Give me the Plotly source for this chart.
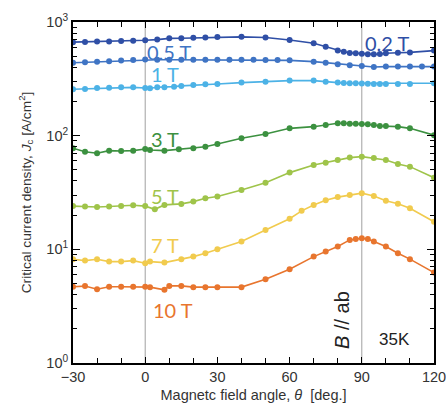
import plotly.graph_objects as go

# ---- data (angle in deg, Jc in A/cm^2) ----
a02 = [-30, -25, -20, -15, -10, -5, 0, 5, 10, 15, 20, 25, 30, 40, 50, 60, 70, 75, 80, 82.5, 85, 87.5, 90, 92.5, 95, 97.5, 100, 105, 110, 120]
v02 = [665, 668, 672, 675, 680, 685, 690, 700, 718, 720, 725, 730, 738, 740, 730, 695, 650, 607, 560, 548, 535, 531, 525, 520, 520, 522, 531, 537, 540, 560]

a05 = [-30, -25, -20, -15, -10, -5, 0, 5, 10, 15, 20, 25, 30, 35, 40, 45, 50, 55, 60, 70, 75, 80, 85, 90, 95, 100, 105, 110, 115, 120]
v05 = [438, 442, 447, 452, 458, 463, 468, 466, 465, 465, 465, 465, 465, 466, 466, 465, 464, 463, 460, 448, 438, 425, 416, 410, 402, 405, 405, 405, 405, 405]

a1 = [-30, -25, -20, -15, -10, -5, 0, 2, 5, 8, 12, 15, 20, 25, 30, 40, 50, 60, 70, 75, 80, 82.5, 85, 87.5, 90, 92.5, 95, 97.5, 100, 105, 110, 120]
v1 = [256, 258, 262, 264, 267, 266, 263, 261, 267, 267, 270, 274, 279, 283, 285, 293, 298, 305, 305, 298, 293, 290, 289, 289, 288, 286, 285, 285, 285, 285, 285, 289]

a3 = [-30, -25, -20, -15, -10, -5, 0, 2, 8, 14, 20, 25, 30, 40, 50, 60, 70, 75, 80, 82.5, 85, 87.5, 90, 92.5, 95, 97.5, 100, 105, 110, 120]
v3 = [77.5, 72.3, 70, 73.8, 73.3, 73.8, 76.4, 74.8, 73.8, 75.9, 77.5, 80, 84.5, 94.9, 103.5, 116, 120, 124, 128.5, 128.5, 127, 127, 126.7, 126, 124, 121.6, 121.6, 120, 116, 101]

a5 = [-30, -25, -20, -15, -10, -5, 0, 4, 8, 15, 20, 25, 30, 40, 50, 60, 70, 75, 80, 85, 90, 95, 100, 105, 110, 120]
v5 = [24, 23.8, 23.6, 23.8, 24, 24.4, 24, 22.5, 24.6, 25.1, 26.3, 28.1, 29.2, 33.3, 38.6, 47.3, 55.2, 57.9, 61, 64.1, 65.4, 63.5, 61, 56.3, 53.4, 42.7]

a7 = [-30, -25, -20, -15, -10, -5, 0, 2, 8, 15, 20, 25, 30, 40, 50, 60, 65, 70, 75, 80, 85, 90, 95, 100, 105, 110, 120]
v7 = [8.18, 7.96, 8.18, 7.8, 7.8, 7.96, 7.55, 7.8, 7.64, 8.18, 8.63, 9.25, 10.0, 11.7, 14.8, 18.6, 21.8, 24.5, 27.0, 28.8, 30.0, 31.2, 29.5, 26.8, 25.2, 23.0, 17.5]

a10 = [-30, -25, -20, -15, -10, -5, 0, 2, 8, 10, 15, 20, 25, 30, 40, 50, 60, 70, 75, 80, 85, 87.5, 90, 92.5, 95, 100, 105, 110, 120]
v10 = [4.68, 4.75, 4.46, 4.68, 4.68, 4.68, 4.68, 4.65, 4.4, 4.77, 4.77, 4.65, 4.65, 4.65, 4.65, 5.46, 6.69, 8.63, 9.55, 10.6, 12.1, 12.3, 12.5, 12.3, 11.7, 10.6, 9.25, 8.2, 6.24]

labels = ["0.2 T", "0.5 T", "1 T", "3 T", "5 T", "7 T", "10 T"]
colors = ["#2f4fa6", "#3f74c4", "#4cb2e6", "#3c9140", "#9fc44a", "#f1cb4e", "#e8752e"]
series = [(a02, v02), (a05, v05), (a1, v1), (a3, v3), (a5, v5), (a7, v7), (a10, v10)]

# label placement (deg, log10 Jc)
label_pos = [(100.4, 2.815), (10.0, 2.736), (8.3, 2.543), (8.2, 1.971), (8.2, 1.470), (8.2, 1.039), (11.6, 0.467)]

fig = go.Figure()

for (ax, vy), c, name in zip(series, colors, labels):
    fig.add_trace(go.Scatter(
        x=ax, y=vy, mode="lines+markers", name=name,
        line=dict(color=c, width=1.6),
        marker=dict(color=c, size=6),
        showlegend=False,
    ))

for x0 in [0, 90]:
    fig.add_shape(type="line", xref="x", yref="paper", x0=x0, x1=x0, y0=0, y1=1,
                  line=dict(color="#a0a0a0", width=1), layer="below")

for (px, py), c, name in zip(label_pos, colors, labels):
    fig.add_annotation(x=px, y=py, xref="x", yref="y", text=name, showarrow=False,
                       font=dict(family="Lato", size=20, color=c))

fig.add_annotation(x=81.8, y=0.379, xref="x", yref="y", text="<i>B</i> // ab", textangle=-90,
                   showarrow=False, font=dict(family="Liberation Sans", size=20, color="#222"))
fig.add_annotation(x=103.7, y=0.203, xref="x", yref="y", text="35K", showarrow=False,
                   font=dict(family="Liberation Sans", size=17, color="#222"))

xt = [-30, 0, 30, 60, 90, 120]
yt = [1, 10, 100, 1000]
yt_text = ["10<sup>0</sup>", "10<sup>1</sup>", "10<sup>2</sup>", "10<sup>3</sup>"]
y_minor = [m * d for d in [1, 10, 100] for m in range(2, 10)]

fig.update_xaxes(
    range=[-30, 120], tickvals=xt, ticktext=[str(v).replace("-", "−") for v in xt],
    ticks="inside", ticklen=6, tickwidth=1.2, tickcolor="black",
    minor=dict(dtick=10, tick0=0, ticks="inside", ticklen=5, tickcolor="black"),
    showline=True, linecolor="black", linewidth=2, mirror="ticks",
    showgrid=False, zeroline=False, ticklabeloverflow="allow", automargin=False,
    tickfont=dict(family="Liberation Sans", size=14.5, color="#333"),
    title=dict(text="Magnetc field angle, <i>θ</i>  [deg.]", standoff=6,
               font=dict(family="Liberation Sans", size=14.5, color="#333")),
)
fig.update_yaxes(
    type="log", range=[0, 3], tickvals=yt, ticktext=yt_text,
    ticks="inside", ticklen=7, tickwidth=1.2, tickcolor="black",
    minor=dict(tickvals=y_minor, ticks="inside", ticklen=4, tickcolor="black"),
    showline=True, linecolor="black", linewidth=2, mirror="ticks",
    showgrid=False, zeroline=False, ticklabeloverflow="allow", automargin=False,
    tickfont=dict(family="Liberation Sans", size=14.5, color="#333"),
    title=dict(text="Critical current density, <i>J</i><sub>c</sub> [A/cm<sup>2</sup>]", standoff=12,
               font=dict(family="Liberation Sans", size=13.7, color="#333")),
)

fig.update_layout(
    width=446, height=403,
    margin=dict(l=73, r=12, t=22, b=40),
    paper_bgcolor="white", plot_bgcolor="white",
)

# remove the default page margin so the figure fills the window exactly
fig.write_html("out.html", config={"displayModeBar": False},
               post_script="document.body.style.margin='0';document.body.style.overflow='hidden';")
